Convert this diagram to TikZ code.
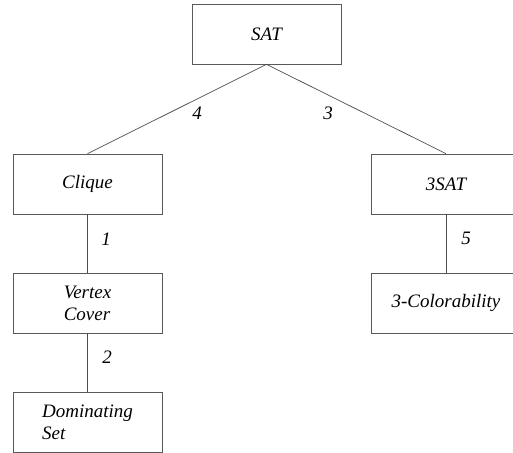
\documentclass[tikz,border=0pt]{standalone}
\usepackage{fontspec}
\setmainfont{Liberation Serif}
\begin{document}
\begin{tikzpicture}[x=1pt,y=-1pt,
  box/.style={draw=black!65,line width=0.7pt,rectangle,minimum width=149pt,minimum height=60pt,inner sep=0pt,align=left,
    font=\fontsize{19}{22}\selectfont\itshape},
  conn/.style={draw=black!70,line width=0.7pt},
  num/.style={inner sep=0pt,font=\fontsize{19}{22}\selectfont\itshape}]
\useasboundingbox (0,0) rectangle (513,452);
\clip (0,0) rectangle (513,452);
\node[box] (sat) at (266.5,34) {SAT};
\node[box] (clique) at (87.5,184) {Clique};
\node[box] (tsat) at (446,184) {3SAT};
\node[box] (vc) at (87.5,303) {Vertex\\Cover};
\node[box] (col) at (446,303) {3-Colorability};
\node[box] (ds) at (87.5,422) {Dominating\\Set};
\draw[conn] (sat.south) -- (clique.north);
\draw[conn] (sat.south) -- (tsat.north);
\draw[conn] (clique.south) -- (vc.north);
\draw[conn] (vc.south) -- (ds.north);
\draw[conn] (tsat.south) -- (col.north);
\node[num] (l4) at (197,113) {4};
\node[num] (l3) at (328,113) {3};
\node[num] (l1) at (106,239) {1};
\node[num] (l2) at (107,357) {2};
\node[num] (l5) at (466,238) {5};
\end{tikzpicture}
\end{document}
